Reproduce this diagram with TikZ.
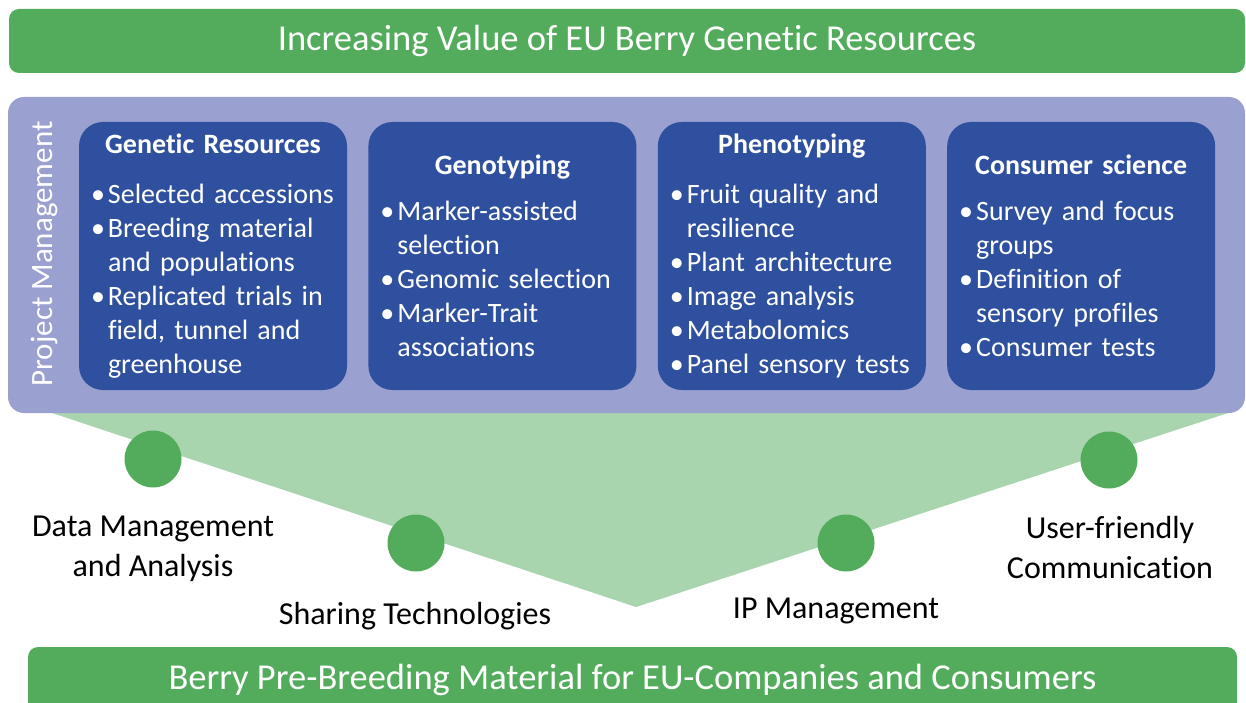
\documentclass[tikz,border=0pt]{standalone}
\usepackage{fontspec}
\setmainfont{Carlito}[Ligatures=CommonOff]
\usepackage{tikz}
\usetikzlibrary{positioning}
\definecolor{berrygreen}{RGB}{83,171,92}
\definecolor{funnelgreen}{RGB}{168,213,174}
\definecolor{panelpurple}{RGB}{154,160,208}
\definecolor{boxblue}{RGB}{47,80,158}
\newcommand{\nohyph}{\hyphenpenalty 10000 \exhyphenpenalty 10000 }
\newcommand{\itm}{\par\hangindent=18pt\hangafter=1\noindent\makebox[18pt][l]{\hspace{1pt}\textbullet}}
\newcommand{\hdg}[1]{{\centering\bfseries #1\par}\vspace{12pt}}

\begin{document}
\begin{tikzpicture}[
    x=1pt, y=-1pt,
    banner/.style={rectangle, rounded corners=10pt, fill=berrygreen, text=white,
                   inner sep=0pt, font=\fontsize{36.5}{40}\selectfont},
    wpbox/.style={rectangle, rounded corners=24pt, fill=boxblue, text=white,
                  minimum width=268pt, minimum height=268pt, text width=246pt,
                  inner xsep=11pt, inner ysep=0pt, align=left,
                  font=\fontsize{28}{34}\selectfont\nohyph},
    dot/.style={circle, fill=berrygreen, minimum size=57pt, inner sep=0pt},
    lbl/.style={align=center, inner sep=0pt, font=\fontsize{32}{40}\selectfont}
]
    \useasboundingbox (0,0) rectangle (1246,703);
    \clip (0,0) rectangle (1246,703);

    % Banners
    \node[banner, minimum width=1236pt, minimum height=64pt] (goal) at (627,41)
        {Increasing Value of EU Berry Genetic Resources};
    \node[banner, minimum width=1209pt, minimum height=66pt] (outcome) at (632.5,680)
        {Berry Pre-Breeding Material for EU-Companies and Consumers};

    % Funnel
    \fill[funnelgreen] (49,412) -- (1231,412) -- (636,607) -- cycle;

    % Project management panel
    \node[rectangle, rounded corners=16pt, fill=panelpurple, minimum width=1237pt,
          minimum height=316pt, inner sep=0pt] (pm) at (626.5,255) {};
    \node[rotate=90, text=white, inner sep=0pt, font=\fontsize{31}{36}\selectfont]
        (pmlbl) at (44,254) {Project Management};

    % Work packages
    \node[wpbox] (genres) at (213,256) {\vspace*{4pt}\hdg{Genetic Resources}
        \itm Selected accessions
        \itm Breeding material\newline and populations
        \itm Replicated trials in\newline field, tunnel and\newline greenhouse\par};
    \node[wpbox, right=21pt of genres] (genotyp) {\hdg{Genotyping}
        \itm Marker-assisted\newline selection
        \itm Genomic selection
        \itm Marker-Trait\newline associations\par};
    \node[wpbox, right=21pt of genotyp] (phenotyp) {\vspace*{4pt}\hdg{Phenotyping}
        \itm Fruit quality and\newline resilience
        \itm Plant architecture
        \itm Image analysis
        \itm Metabolomics
        \itm Panel sensory tests\par};
    \node[wpbox, right=21pt of phenotyp] (consumer) {\hdg{Consumer science}
        \itm Survey and focus\newline groups
        \itm Definition of\newline sensory profiles
        \itm Consumer tests\par};

    % Cross-cutting activities
    \node[dot] (datamgmt) at (153,459) {};
    \node[dot] (sharing) at (416,543) {};
    \node[dot] (ipmgmt) at (846,543) {};
    \node[dot] (commun) at (1109,460) {};

    \node[lbl] (datalbl) at (153,549) {Data Management\\and Analysis};
    \node[lbl] (sharelbl) at (415,616) {Sharing Technologies};
    \node[lbl] (iplbl) at (836,611) {IP Management};
    \node[lbl] (communlbl) at (1110,548) {User-friendly\\Communication};
\end{tikzpicture}
\end{document}
